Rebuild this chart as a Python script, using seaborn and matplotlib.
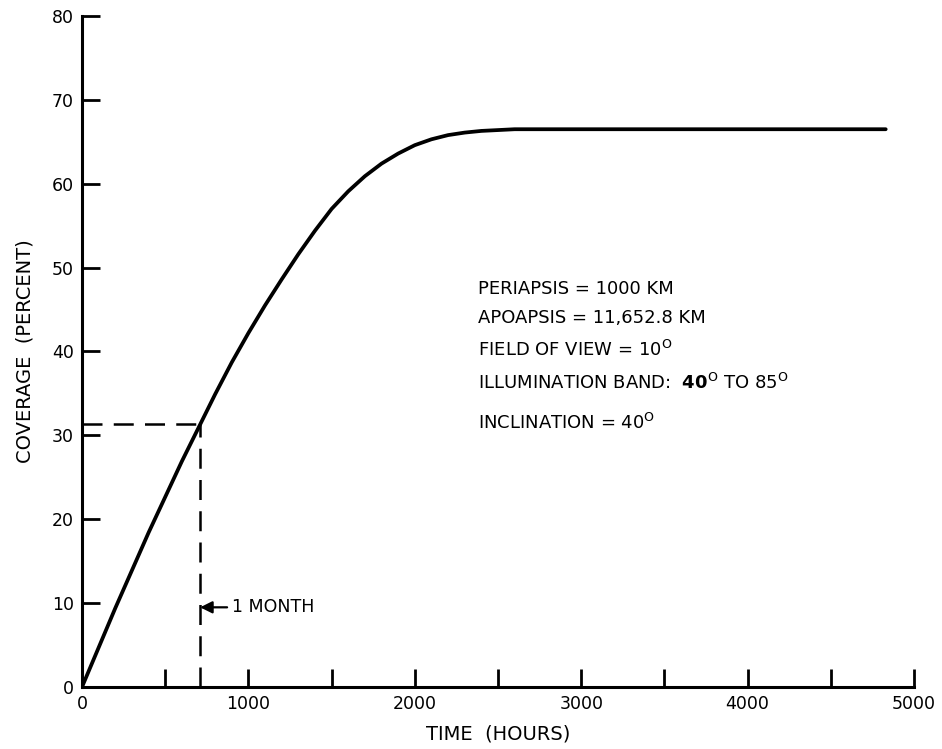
import matplotlib
matplotlib.use("Agg")
import matplotlib.pyplot as plt
import seaborn as sns
import pandas as pd

# ---- data ----
hours = [0, 200, 400, 600, 710, 800, 900, 1000, 1100, 1200, 1300, 1400, 1500,
         1600, 1700, 1800, 1900, 2000, 2100, 2200, 2300, 2400, 2500, 2600,
         3000, 4000, 4830]
coverage = [0, 9.4, 18.4, 26.9, 31.3, 34.9, 38.7, 42.2, 45.5, 48.6, 51.6, 54.4, 57.0,
            59.1, 60.9, 62.4, 63.6, 64.6, 65.3, 65.8, 66.1, 66.3, 66.4, 66.5,
            66.5, 66.5, 66.5]
month_hours = 710
month_cov = 31.3
x_ticks = [0, 1000, 2000, 3000, 4000, 5000]
y_ticks = [0, 10, 20, 30, 40, 50, 60, 70, 80]
info_lines = [
    "PERIAPSIS = 1000 KM",
    "APOAPSIS = 11,652.8 KM",
    r"FIELD OF VIEW = 10$^{\mathrm{O}}$",
    r"ILLUMINATION BAND:  $\mathbf{40}^{\mathrm{O}}$ TO 85$^{\mathrm{O}}$",
    r"INCLINATION = 40$^{\mathrm{O}}$",
]
info_y = [47.5, 44.0, 40.2, 36.2, 31.5]
info_x = 2380

df = pd.DataFrame({"hours": hours, "coverage": coverage})

sns.set_theme(style="white")
plt.rcParams["font.family"] = ["DejaVu Sans"]
plt.rcParams["text.color"] = "black"
plt.rcParams["axes.labelcolor"] = "black"

fig = plt.figure(figsize=(9.42, 7.49), dpi=100)
ax = fig.add_axes([82 / 942, 1 - 687 / 749, (914 - 82) / 942, (687 - 16) / 749])

sns.lineplot(data=df, x="hours", y="coverage", ax=ax, color="black", linewidth=2.7)

# dashed guide lines for 1 month
ax.plot([0, month_hours], [month_cov, month_cov], color="black", lw=1.8,
        dashes=(8, 4.5))
ax.plot([month_hours, month_hours], [0, month_cov], color="black", lw=1.8,
        dashes=(8, 4.5))

ax.annotate("1 MONTH", xy=(month_hours, 9.5), xytext=(900, 9.5),
            ha="left", va="center", fontsize=12.5, color="black",
            arrowprops=dict(arrowstyle="-|>", color="black", lw=1.6,
                            mutation_scale=18, shrinkA=1, shrinkB=0))

for txt, yy in zip(info_lines, info_y):
    ax.text(info_x, yy, txt, ha="left", va="center", fontsize=13, color="black")

ax.set_xlim(0, 5000)
ax.set_ylim(0, 80)
ax.set_xticks(x_ticks)
ax.set_xticks([500, 1500, 2500, 3500, 4500], minor=True)
ax.set_yticks(y_ticks)
ax.set_xticklabels([str(v) for v in x_ticks], fontsize=12.5)
ax.set_yticklabels([str(v) for v in y_ticks], fontsize=12.5)
ax.tick_params(axis="both", which="both", direction="in", length=13, width=2,
               color="black", labelcolor="black", bottom=True, left=True)
ax.tick_params(axis="x", pad=6)
ax.tick_params(axis="y", pad=6)

for side in ["top", "right"]:
    ax.spines[side].set_visible(False)
for side in ["left", "bottom"]:
    ax.spines[side].set_color("black")
    ax.spines[side].set_linewidth(2.2)

ax.set_xlabel("TIME  (HOURS)", fontsize=14, labelpad=8, color="black")
ax.set_ylabel("COVERAGE  (PERCENT)", fontsize=14, labelpad=12, color="black")

fig.savefig("out.png", dpi=100, facecolor="white")
